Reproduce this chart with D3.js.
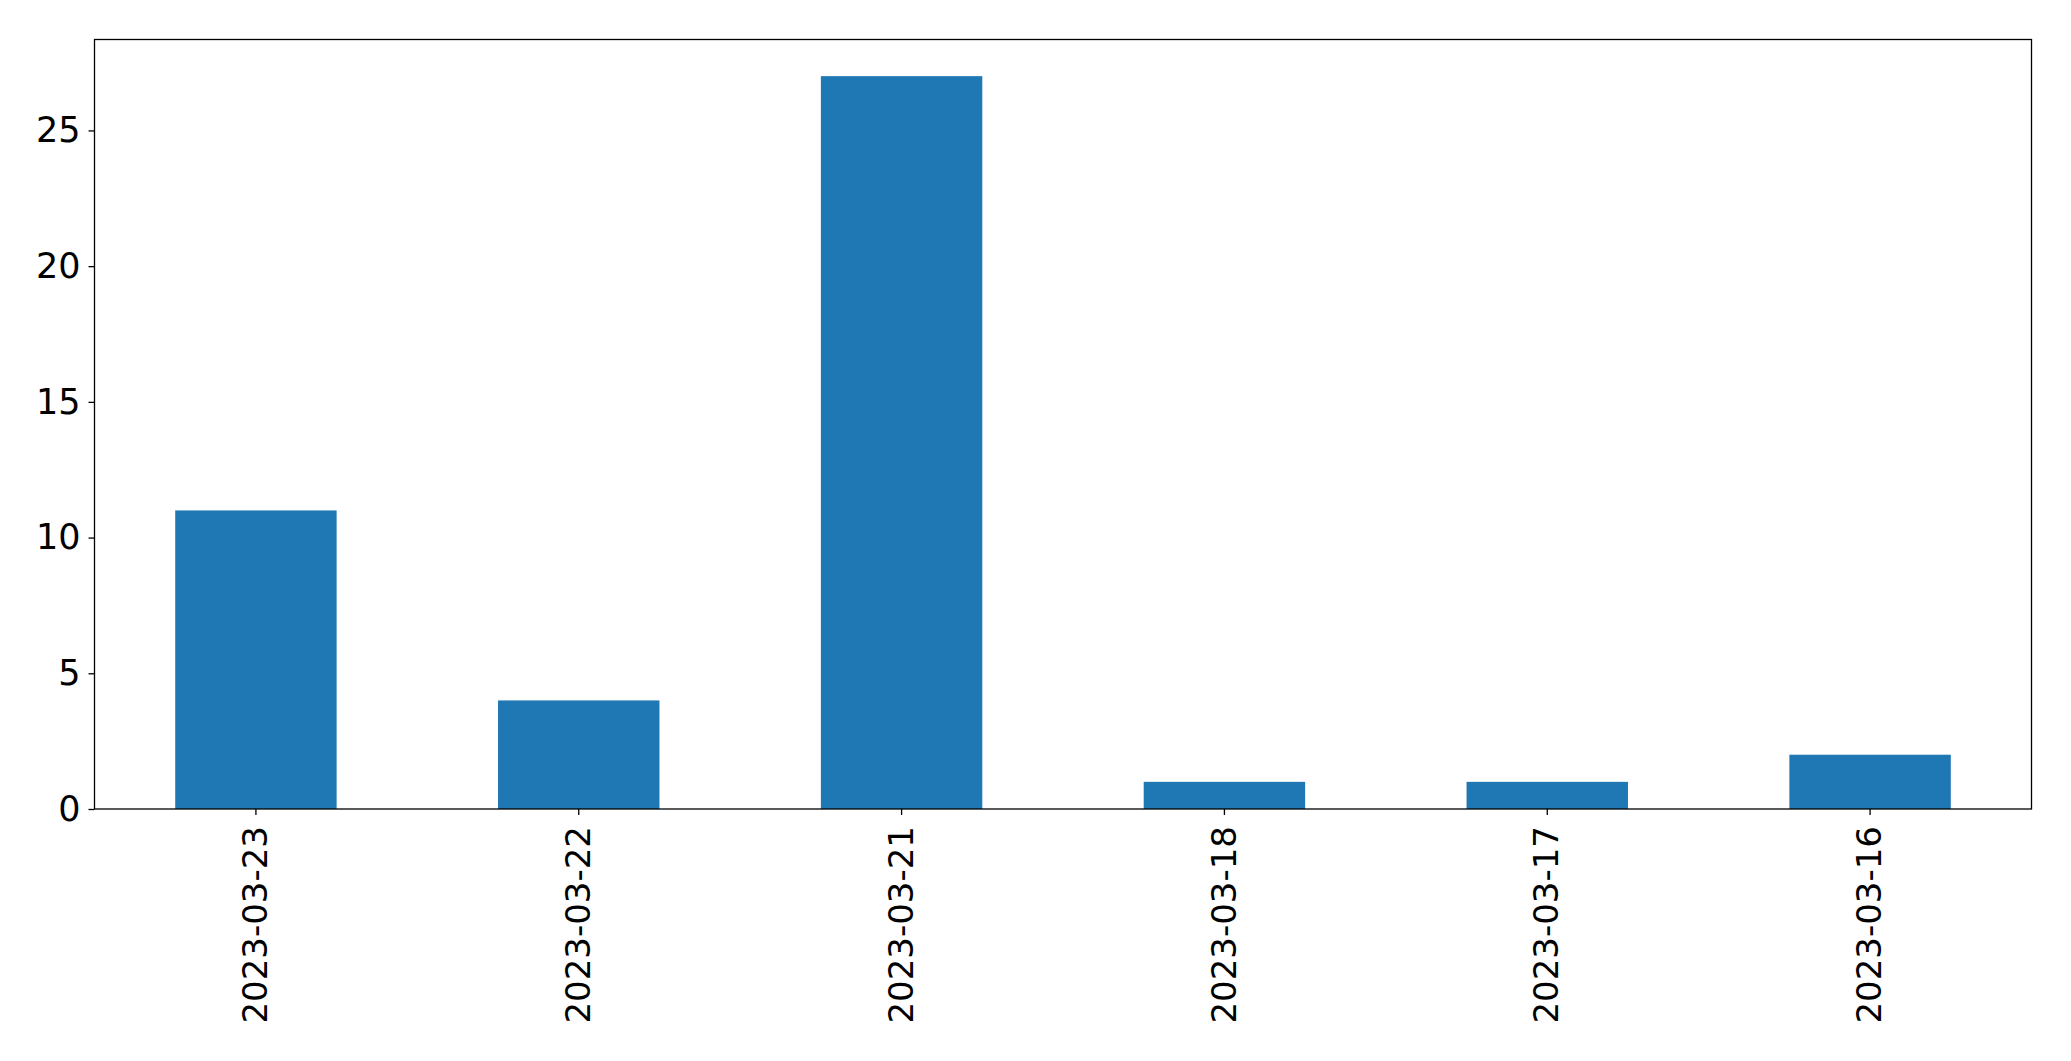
<!DOCTYPE html>
<html><head><meta charset="utf-8">
<script src="https://cdn.jsdelivr.net/npm/d3@7"></script>
<style>html,body{margin:0;padding:0;background:#fff;}svg{display:block;}</style>
</head><body>
<svg id="chart" width="2071" height="1061"></svg>
<script>
const categories = ["2023-03-23","2023-03-22","2023-03-21","2023-03-18","2023-03-17","2023-03-16"];
const values = [11, 4, 27, 1, 1, 2];
const yTicks = [0, 5, 10, 15, 20, 25];

const W = 2071, H = 1061;
const m = {left: 94.5, right: 2031.5, top: 39.5, bottom: 809};
const svg = d3.select("#chart");

const x = d3.scaleBand().domain(categories).range([m.left, m.right]).paddingInner(0.5).paddingOuter(0.25);
const y = d3.scaleLinear().domain([0, d3.max(values) * 1.05]).range([m.bottom, m.top]);

svg.append("g").selectAll("rect").data(values).join("rect")
  .attr("x", (d, i) => x(categories[i]))
  .attr("width", x.bandwidth())
  .attr("y", d => y(d))
  .attr("height", d => y(0) - y(d))
  .attr("fill", "#1f77b4");

const font = "DejaVu Sans, sans-serif";

const ya = svg.append("g").attr("transform", `translate(${m.left},0)`)
  .call(d3.axisLeft(y).tickValues(yTicks).tickSize(6).tickPadding(8).tickFormat(d3.format("d")));
ya.select(".domain").remove();
ya.selectAll("text").attr("font-family", font).attr("font-size", 35).attr("fill", "#000");
ya.selectAll("line").attr("stroke", "#000").attr("stroke-width", 1.3);

const xa = svg.append("g").attr("transform", `translate(0,${m.bottom})`)
  .call(d3.axisBottom(x).tickSize(6).tickPadding(10));
xa.select(".domain").remove();
xa.selectAll("line").attr("stroke", "#000").attr("stroke-width", 1.3);
xa.selectAll("text").attr("font-family", font).attr("font-size", 34).attr("fill", "#000")
  .attr("transform", "rotate(-90)")
  .attr("text-anchor", "end")
  .attr("dy", "0.33em")
  .attr("y", 0)
  .attr("x", -17);

svg.append("rect").attr("x", m.left).attr("y", m.top)
  .attr("width", m.right - m.left).attr("height", m.bottom - m.top)
  .attr("fill", "none").attr("stroke", "#000").attr("stroke-width", 1.3);
</script>
</body></html>
